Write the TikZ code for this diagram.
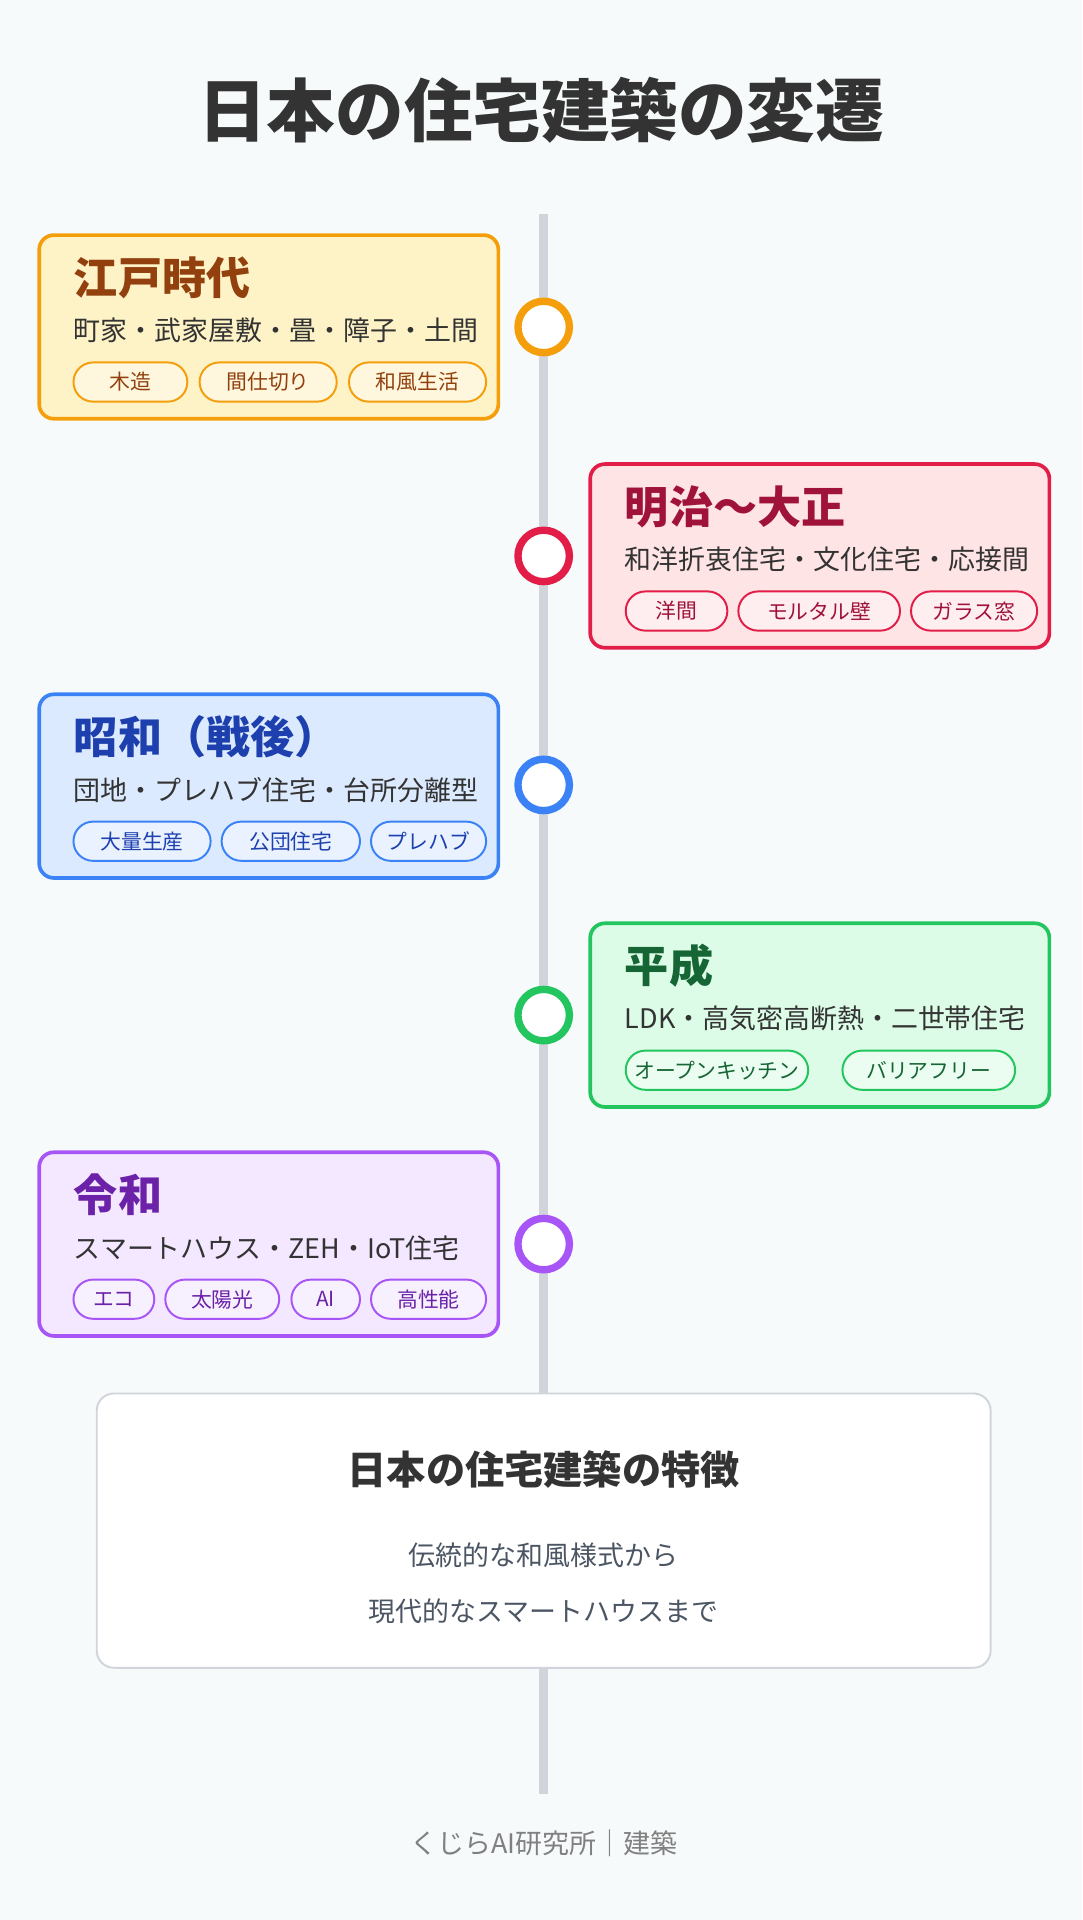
\documentclass[tikz,border=0pt]{standalone}
\usepackage{fontspec}
\setmainfont{Noto Sans CJK JP}
\usetikzlibrary{positioning}
\definecolor{bgc}{HTML}{F7FAFB}
\definecolor{ink}{HTML}{333333}
\definecolor{linec}{HTML}{D1D5DB}
\definecolor{grayt}{HTML}{4B5563}
\definecolor{edoc}{HTML}{F59E0B}\definecolor{edof}{HTML}{FEF3C7}\definecolor{edot}{HTML}{92400E}
\definecolor{meic}{HTML}{E11D48}\definecolor{meif}{HTML}{FFE4E6}\definecolor{meit}{HTML}{9F1239}
\definecolor{shoc}{HTML}{3B82F6}\definecolor{shof}{HTML}{DBEAFE}\definecolor{shot}{HTML}{1E40AF}
\definecolor{heic}{HTML}{22C55E}\definecolor{heif}{HTML}{DCFCE7}\definecolor{heit}{HTML}{166534}
\definecolor{reic}{HTML}{A855F7}\definecolor{reif}{HTML}{F3E8FF}\definecolor{reit}{HTML}{6B21A8}
\tikzset{
  card/.style={draw=#1,line width=1.5pt,rounded corners=6pt},
  era/.style={anchor=west,font=\fontsize{18}{20}\selectfont\bfseries,text=#1,inner sep=0pt},
  sub/.style={anchor=west,font=\fontsize{11}{13}\selectfont,text=ink,inner sep=0pt},
  tag/.style={draw=#1,line width=0.8pt,rounded corners=8pt,fill=white,fill opacity=0.4,text opacity=1,
    minimum height=16pt,inner xsep=0pt,font=\fontsize{8.5}{10}\selectfont},
  dot/.style={circle,draw=#1,line width=3pt,fill=white,minimum size=21pt,inner sep=0pt},
}
\begin{document}
\begin{tikzpicture}[x=0.5pt,y=-0.5pt]
\fill[bgc] (0,0) rectangle (884,1568);
\useasboundingbox (0,0) rectangle (884,1568);
\node[font=\fontsize{28}{31}\selectfont\bfseries,text=ink] (title) at (442,90) {日本の住宅建築の変遷};
\coordinate (top) at (444,175);
\coordinate (bot) at (444,1465);
\draw[linec,line width=3.5pt] (top) -- (bot);
% Edo
\draw[card=edoc,fill=edof] (32,192) rectangle (407,342);
\node[era=edot] (e1) at (60,227) {江戸時代};
\node[sub] (e2) at (60,270) {町家・武家屋敷・畳・障子・土間};
\node[tag=edoc,text=edot,minimum width=46.5pt] (e3) at (106.5,312) {木造};
\node[tag=edoc,text=edot,minimum width=56pt] (e4) at (219,312) {間仕切り};
\node[tag=edoc,text=edot,minimum width=56pt] (e5) at (341,312) {和風生活};
\node[dot=edoc] (d1) at (444,267) {};
% Meiji
\draw[card=meic,fill=meif] (482,379) rectangle (857,529);
\node[era=meit] (m1) at (510,414) {明治〜大正};
\node[sub] (m2) at (510,457) {和洋折衷住宅・文化住宅・応接間};
\node[tag=meic,text=meit,minimum width=41.5pt] (m3) at (552.5,499) {洋間};
\node[tag=meic,text=meit,minimum width=66pt] (m4) at (669,499) {モルタル壁};
\node[tag=meic,text=meit,minimum width=51.5pt] (m5) at (795.5,499) {ガラス窓};
\node[dot=meic] (d2) at (444,454) {};
% Showa
\draw[card=shoc,fill=shof] (32,567) rectangle (407,717);
\node[era=shot] (s1) at (60,602) {昭和（戦後）};
\node[sub] (s2) at (60,645) {団地・プレハブ住宅・台所分離型};
\node[tag=shoc,text=shot,minimum width=56pt] (s3) at (116,687) {大量生産};
\node[tag=shoc,text=shot,minimum width=56.5pt] (s4) at (237.5,687) {公団住宅};
\node[tag=shoc,text=shot,minimum width=47pt] (s5) at (350,687) {プレハブ};
\node[dot=shoc] (d3) at (444,641) {};
% Heisei
\draw[card=heic,fill=heif] (482,754) rectangle (857,904);
\node[era=heit] (h1) at (510,789) {平成};
\node[sub] (h2) at (510,832) {LDK・高気密高断熱・二世帯住宅};
\node[tag=heic,text=heit,minimum width=74.5pt] (h3) at (585.5,874) {オープンキッチン};
\node[tag=heic,text=heit,minimum width=70.5pt] (h4) at (758.5,874) {バリアフリー};
\node[dot=heic] (d4) at (444,829) {};
% Reiwa
\draw[card=reic,fill=reif] (32,941) rectangle (407,1091);
\node[era=reit] (r1) at (60,976) {令和};
\node[sub] (r2) at (60,1019) {スマートハウス・ZEH・IoT住宅};
\node[tag=reic,text=reit,minimum width=33pt] (r3) at (93,1061) {エコ};
\node[tag=reic,text=reit,minimum width=46.5pt] (r4) at (181.5,1061) {太陽光};
\node[tag=reic,text=reit,minimum width=28pt] (r5) at (266,1061) {AI};
\node[tag=reic,text=reit,minimum width=47pt] (r6) at (350,1061) {高性能};
\node[dot=reic] (d5) at (444,1016) {};
% summary
\draw[draw=linec,line width=0.8pt,fill=white,rounded corners=7pt] (79,1138) rectangle (809,1362);
\node[font=\fontsize{16}{18}\selectfont\bfseries,text=ink] (f1) at (444,1200) {日本の住宅建築の特徴};
\node[font=\fontsize{11}{13}\selectfont,text=grayt] (f2) at (444,1270) {伝統的な和風様式から};
\node[font=\fontsize{11}{13}\selectfont,text=grayt] (f3) at (444,1316) {現代的なスマートハウスまで};
\node[font=\fontsize{11}{13}\selectfont,text=gray] (foot) at (444,1505) {くじらAI研究所｜建築};
\end{tikzpicture}
\end{document}
